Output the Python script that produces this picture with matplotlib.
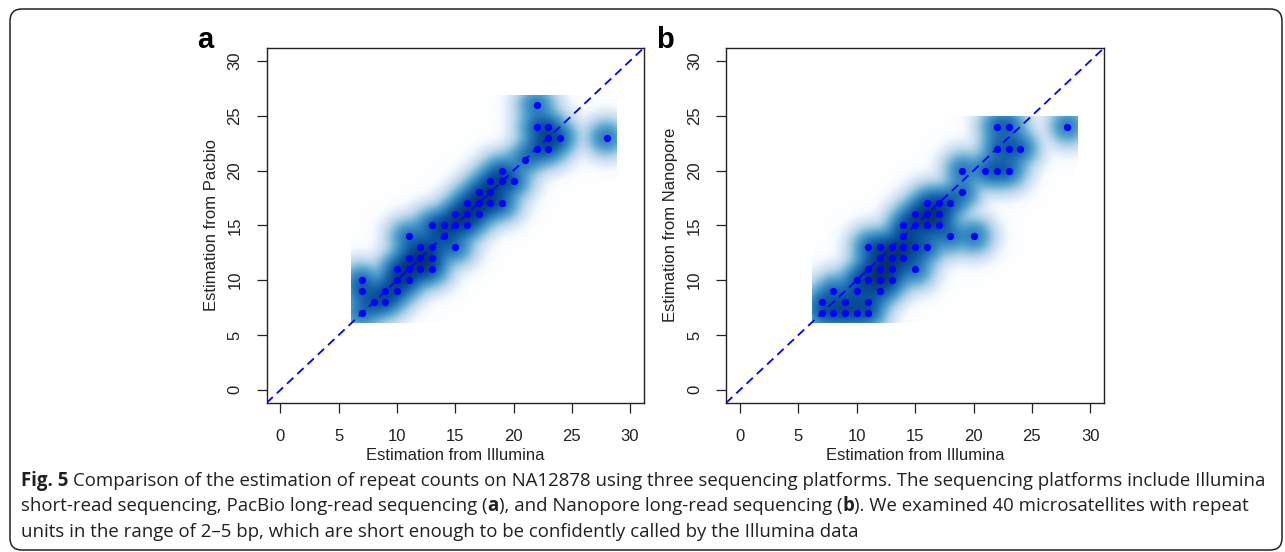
import numpy as np
import matplotlib
matplotlib.use('Agg')
import matplotlib.pyplot as plt
from matplotlib.colors import LinearSegmentedColormap
from matplotlib.patches import FancyBboxPatch

# panel a: Illumina vs PacBio repeat counts
illumina_a = [7, 7, 7, 8, 9, 9, 10, 10, 10, 11, 11, 11, 11, 12, 12, 12, 13, 13, 13, 13,
              14, 14, 15, 15, 15, 16, 16, 16, 17, 17, 17, 18, 18, 18, 19, 19, 19, 20,
              21, 22, 22, 22, 23, 23, 23, 24, 28]
pacbio_a = [7, 9, 10, 8, 8, 9, 9, 10, 11, 10, 11, 12, 14, 11, 12, 13, 11, 12, 13, 15,
            14, 15, 13, 15, 16, 15, 16, 17, 16, 17, 18, 17, 18, 19, 17, 19, 20, 19,
            21, 22, 24, 26, 22, 23, 24, 23, 23]

# panel b: Illumina vs Nanopore repeat counts
illumina_b = [7, 7, 8, 8, 9, 9, 10, 10, 10, 11, 11, 11, 11, 11, 12, 12, 12, 12, 12,
              13, 13, 13, 13, 14, 14, 14, 14, 15, 15, 15, 15, 16, 16, 16, 16, 17, 17,
              17, 18, 18, 19, 19, 20, 21, 22, 22, 22, 23, 23, 23, 24, 28]
nanopore_b = [7, 8, 7, 9, 7, 8, 7, 9, 10, 7, 8, 10, 11, 13, 9, 10, 11, 12, 13,
              10, 11, 12, 13, 12, 13, 14, 15, 11, 13, 15, 16, 13, 15, 16, 17, 15, 16,
              17, 14, 17, 18, 20, 14, 20, 20, 22, 24, 20, 22, 24, 22, 24]

tick_values = [0, 5, 10, 15, 20, 25, 30]
x_title = "Estimation from Illumina"
y_titles = ["Estimation from Pacbio", "Estimation from Nanopore"]
panel_letters = ["a", "b"]

caption_lines = [
    [("Fig. 5", "bold"), (" Comparison of the estimation of repeat counts on NA12878 using three "
                          "sequencing platforms. The sequencing platforms include Illumina", "normal")],
    [("short-read sequencing, PacBio long-read sequencing (", "normal"), ("a", "bold"),
     ("), and Nanopore long-read sequencing (", "normal"), ("b", "bold"),
     ("). We examined 40 microsatellites with repeat", "normal")],
    [("units in the range of 2\u20135 bp, which are short enough to be confidently called by the "
      "Illumina data", "normal")],
]

blues9 = ["#F7FBFF", "#DEEBF7", "#C6DBEF", "#9ECAE1", "#6BAED6",
          "#4292C6", "#2171B5", "#08519C", "#08306B"]
smooth_cmap = LinearSegmentedColormap.from_list("smooth", ["white"] + blues9, N=256)

W, H = 1285, 552
fig = plt.figure(figsize=(W / 100, H / 100), dpi=100)

# background axes in pixel units (y down) for frame, letters, labels, caption
bg = fig.add_axes([0, 0, 1, 1])
bg.set_xlim(0, W)
bg.set_ylim(H, 0)
bg.axis('off')
bg.add_patch(FancyBboxPatch((10, 9), 1272, 541, boxstyle="round,pad=0,rounding_size=12",
                            fill=False, edgecolor="#222222", linewidth=1.1))

box_top, box_bottom = 47.7, 403.0
panel_boxes = [(266.5, 644.0), (726.0, 1104.3)]


def smooth_scatter(ax, x, y):
    # same idea as R smoothScatter: 2d gaussian density, fourth root, white -> blues
    x = np.asarray(x, float)
    y = np.asarray(y, float)
    bw_x = 1.3 * np.diff(np.quantile(x, [0.05, 0.95]))[0] / 25
    bw_y = 1.3 * np.diff(np.quantile(y, [0.05, 0.95]))[0] / 25
    gx = np.linspace(x.min() - bw_x, x.max() + bw_x, 128)
    gy = np.linspace(y.min() - bw_y, y.max() + bw_y, 128)
    kx = np.exp(-0.5 * ((gx[:, None] - x[None, :]) / bw_x) ** 2)
    ky = np.exp(-0.5 * ((gy[:, None] - y[None, :]) / bw_y) ** 2)
    dens = kx @ ky.T
    z = dens ** 0.25
    dx = gx[1] - gx[0]
    dy = gy[1] - gy[0]
    ax.imshow(z.T, origin='lower', cmap=smooth_cmap, aspect='auto', interpolation='bilinear',
              extent=[gx[0] - dx / 2, gx[-1] + dx / 2, gy[0] - dy / 2, gy[-1] + dy / 2],
              vmin=z.min(), vmax=z.max(), zorder=1)
    ax.plot(x, y, 'o', color='#0000FF', markersize=5.2, markeredgewidth=0, zorder=3)


data = [(illumina_a, pacbio_a), (illumina_b, nanopore_b)]
for i, (xs, ys) in enumerate(data):
    left, right = panel_boxes[i]
    ax = fig.add_axes([left / W, 1 - box_bottom / H, (right - left) / W, (box_bottom - box_top) / H])
    smooth_scatter(ax, xs, ys)
    ax.axline((0, 0), (1, 1), color='#0000FF', linewidth=1.3, dashes=(4.8, 3.0), zorder=2)
    ax.set_xlim(-1.2, 31.2)
    ax.set_ylim(-1.2, 31.2)
    ax.set_xticks(tick_values)
    ax.set_yticks(tick_values)
    ax.tick_params(direction='out', length=7.2, width=0.9, color='#222222',
                   labelsize=12, labelcolor='#222222')
    ax.tick_params(axis='x', pad=11.5)
    ax.tick_params(axis='y', pad=10)
    for lab in ax.get_xticklabels() + ax.get_yticklabels():
        lab.set_family('Liberation Sans')
    plt.setp(ax.get_yticklabels(), rotation=90, va='center')
    for sp in ax.spines.values():
        sp.set_linewidth(1.0)
        sp.set_color('#222222')

    cx = (left + right) / 2
    cy = (box_top + box_bottom) / 2
    bg.text(cx, 455, x_title, ha='center', va='center', fontsize=12,
            family='Liberation Sans', color='#222222')
    bg.text(left - 55.5, cy, y_titles[i], ha='center', va='center', rotation=90,
            fontsize=12, family='Liberation Sans', color='#222222')
    bg.text(left - 61.5, 48, panel_letters[i], ha='center', va='baseline',
            fontsize=21, fontweight='bold', family='Liberation Sans', color='black')

# caption, drawn piece by piece so bold parts sit inline
renderer = fig.canvas.get_renderer()
cap_font = ['Open Sans', 'DejaVu Sans']


def text_width(s, weight, size):
    t = bg.text(0, 0, s, fontsize=size, fontweight=weight, family=cap_font)
    w = t.get_window_extent(renderer).width
    t.remove()
    return w


def space_width(weight, size):
    return text_width("x x", weight, size) - text_width("xx", weight, size)


def piece_width(s, weight, size):
    core = s.strip(' ')
    n_sp = len(s) - len(core)
    return text_width(core, weight, size) + n_sp * space_width(weight, size)


trial = 12
line1_w = sum(piece_width(s, w, trial) for s, w in caption_lines[0])
cap_size = trial * (1262 - 21) / line1_w

baselines = [486, 511, 537]
for parts, yb in zip(caption_lines, baselines):
    x = 21
    for s, w in parts:
        sp = space_width(w, cap_size)
        core = s.strip(' ')
        x += (len(s) - len(s.lstrip(' '))) * sp
        bg.text(x, yb, core, ha='left', va='baseline', fontsize=cap_size, fontweight=w,
                family=cap_font, color='#231f20')
        x += text_width(core, w, cap_size)
        x += (len(s) - len(s.rstrip(' '))) * sp

fig.savefig('out.png', dpi=100)
